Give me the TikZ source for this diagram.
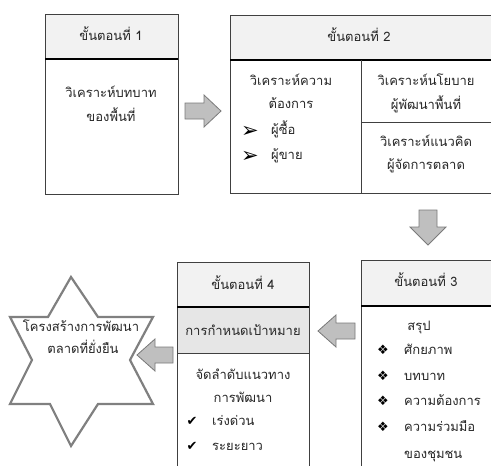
\documentclass[tikz,border=0pt]{standalone}
\usepackage{fontspec}
\newfontfamily\thai[Script=Thai]{Loma}
\newfontfamily\symf{DejaVu Sans}
\definecolor{boxline}{HTML}{404040}
\definecolor{headfill}{HTML}{F2F2F2}
\definecolor{bandfill}{HTML}{E6E6E6}
\definecolor{arrfill}{HTML}{BFBFBF}
\definecolor{arrline}{HTML}{7A7A7A}
\definecolor{starline}{HTML}{808080}
\definecolor{txtc}{HTML}{262626}
\begin{document}
\begin{tikzpicture}[x=1pt,y=-1pt,
  frame/.style={draw=boxline,line width=0.8pt},
  sep/.style={draw=black,line width=1.6pt},
  thin/.style={draw=boxline,line width=0.8pt},
  blockarrow/.style={fill=arrfill,draw=arrline,line width=0.8pt,line join=miter},
  txt/.style={font=\thai\fontsize{13}{15}\selectfont,text=txtc,inner sep=0pt,anchor=base},
  ltxt/.style={txt,anchor=base west},
  sym/.style={font=\symf\fontsize{13}{15}\selectfont,text=black,inner sep=0pt,anchor=base},
  arrowbullet/.style={sym,font=\symf\fontsize{21}{23}\selectfont}]
\useasboundingbox (0,0) rectangle (491,466);
\clip (0,0) rectangle (491,466);
\fill[white] (0,0) rectangle (491,466);

% ---------- Box 1 ----------
\fill[headfill] (45,14) rectangle (178,59);
\draw[frame] (45,14) rectangle (178,194);
\draw[sep] (45,59) -- (178,59);
\node[txt] (h1) at (111,40) {ขั้นตอนที่ 1};
\node[txt] (b1a) at (111,97) {วิเคราะห์บทบาท};
\node[txt] (b1b) at (111,121) {ของพื้นที่};

% arrow 1 -> 2
\draw[blockarrow] (185,103) -- (204,103) -- (204,95) -- (221,111) -- (204,127) -- (204,119) -- (185,119) -- cycle;

% ---------- Box 2 ----------
\fill[headfill] (230,15) rectangle (494,60);
\draw[frame] (230,15) rectangle (494,193);
\draw[sep] (230,60) -- (494,60);
\draw[thin] (361,60) -- (361,193);
\draw[thin] (361,122) -- (494,122);
\node[txt] (h2) at (359,41) {ขั้นตอนที่ 2};
\node[txt] (b2a) at (291,85) {วิเคราะห์ความ};
\node[txt] (b2b) at (291,108) {ต้องการ};
\node[arrowbullet] (m1) at (250,137) {➢};
\node[arrowbullet] (m2) at (250,162) {➢};
\node[ltxt] (b2c) at (271,134) {ผู้ซื้อ};
\node[ltxt] (b2d) at (271,159) {ผู้ขาย};
\node[txt] (b2e) at (426,85) {วิเคราะห์นโยบาย};
\node[txt] (b2f) at (426,109) {ผู้พัฒนาพื้นที่};
\node[txt] (b2g) at (426,146) {วิเคราะห์แนวคิด};
\node[txt] (b2h) at (426,169) {ผู้จัดการตลาด};

% arrow 2 -> 3
\draw[blockarrow] (419,210) -- (437,210) -- (437,227) -- (446,227) -- (428,245) -- (410,227) -- (419,227) -- cycle;

% ---------- Box 3 ----------
\fill[headfill] (361,260) rectangle (494,306);
\draw[frame] (361,260) rectangle (494,470);
\draw[sep] (361,306) -- (494,306);
\node[txt] (h3) at (426,286) {ขั้นตอนที่ 3};
\node[txt] (b3a) at (419,330) {สรุป};
\node[sym] (d1) at (383,354) {❖};
\node[sym] (d2) at (383,380) {❖};
\node[sym] (d3) at (383,405) {❖};
\node[sym] (d4) at (383,431) {❖};
\node[ltxt] (b3b) at (404,354) {ศักยภาพ};
\node[ltxt] (b3c) at (404,380) {บทบาท};
\node[ltxt] (b3d) at (404,405) {ความต้องการ};
\node[ltxt] (b3e) at (404,431) {ความร่วมมือ};
\node[ltxt] (b3f) at (404,458) {ของชุมชน};

% arrow 3 -> 4
\draw[blockarrow] (355,323) -- (336,323) -- (336,315) -- (318,331) -- (336,347) -- (336,339) -- (355,339) -- cycle;

% ---------- Box 4 ----------
\fill[headfill] (177,262) rectangle (309,307);
\fill[bandfill] (177,307) rectangle (309,353);
\draw[frame] (177,262) rectangle (309,470);
\draw[sep] (177,307) -- (309,307);
\draw[thin] (177,353) -- (309,353);
\node[txt] (h4) at (243,289) {ขั้นตอนที่ 4};
\node[txt] (b4a) at (243,335) {การกำหนดเป้าหมาย};
\node[txt] (b4b) at (243,379) {จัดลำดับแนวทาง};
\node[txt] (b4c) at (243,402) {การพัฒนา};
\node[sym] (c1) at (192,425) {✔};
\node[sym] (c2) at (192,450) {✔};
\node[ltxt] (b4d) at (212,425) {เร่งด่วน};
\node[ltxt] (b4e) at (212,450) {ระยะยาว};

% arrow 4 -> star
\draw[blockarrow] (173,347) -- (155,347) -- (155,339) -- (137,355) -- (155,371) -- (155,363) -- (173,363) -- cycle;

% ---------- Star ----------
\draw[fill=white,draw=starline,line width=2.2pt,line join=miter]
  (71,277) -- (98,317) -- (153,317) -- (130,360) -- (153,404) -- (98,404)
  -- (71,446) -- (50,404) -- (10,404) -- (32,360) -- (10,317) -- (48,317) -- cycle;
\node[txt] (s1) at (81,331) {โครงสร้างการพัฒนา};
\node[txt] (s2) at (83,353) {ตลาดที่ยั่งยืน};
\end{tikzpicture}
\end{document}
